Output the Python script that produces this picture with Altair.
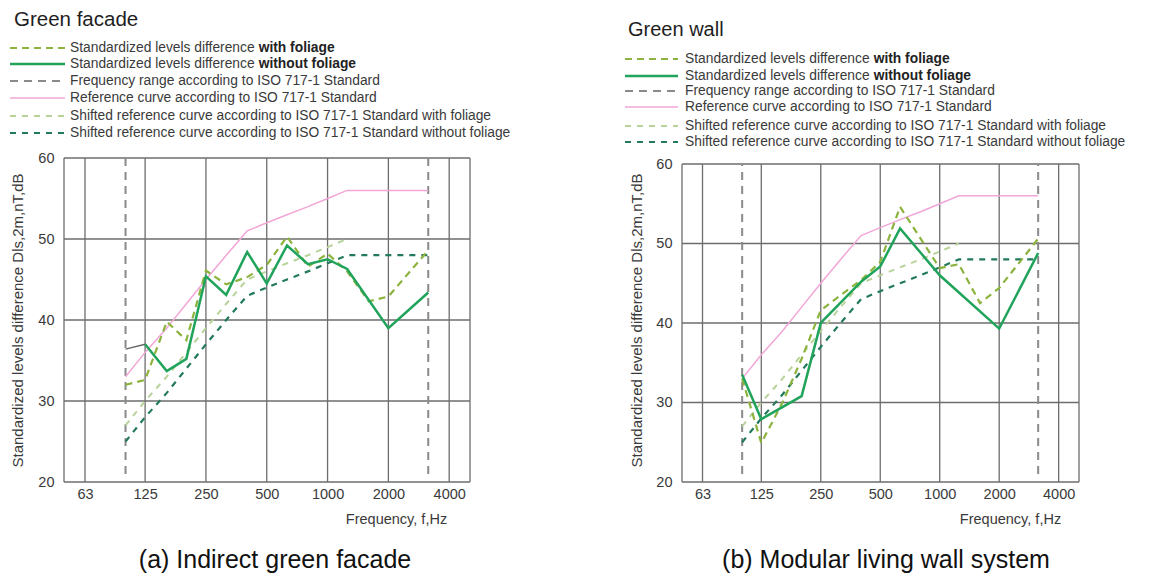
import altair as alt
import pandas as pd

# ---------------- data ----------------
FREQ_THIRD = [100, 125, 160, 200, 250, 315, 400, 500, 630, 800, 1000, 1250, 1600, 2000, 2500, 3150]
REF_CURVE = [33, 36, 39, 42, 45, 48, 51, 52, 53, 54, 55, 56, 56, 56, 56, 56]

SHIFT_WITH_F = [100, 125, 160, 200, 250, 315, 400, 500, 630, 800, 1000, 1250]
SHIFT_WITH_V = [27, 30, 33, 36, 39, 42, 45, 46, 47, 48, 49, 50]
SHIFT_WITHOUT_V = [25, 28, 31, 34, 37, 40, 43, 44, 45, 46, 47, 48, 48, 48, 48, 48]

# Green facade
FAC_WITH_F = [100, 125, 160, 200, 250, 315, 400, 500, 630, 800, 1000, 1250, 1600, 2000, 3150]
FAC_WITH_V = [32.0, 32.6, 39.8, 37.5, 46.1, 44.4, 45.3, 46.8, 50.3, 46.6, 48.2, 46.0, 42.3, 42.9, 48.6]
FAC_WITHOUT_F = [125, 160, 200, 250, 315, 400, 500, 630, 800, 1000, 1250, 2000, 3150]
FAC_WITHOUT_V = [37.0, 33.7, 35.2, 45.4, 43.1, 48.4, 44.5, 49.2, 46.9, 47.5, 46.3, 39.0, 43.4]
FAC_LOW_F = [100, 125]
FAC_LOW_V = [36.4, 37.0]

# Green wall
WALL_WITH_F = [100, 125, 160, 200, 250, 315, 400, 500, 630, 1000, 1250, 1600, 2000, 3150]
WALL_WITH_V = [33.0, 24.9, 30.0, 35.5, 41.6, 43.5, 45.4, 47.7, 54.6, 46.9, 47.4, 42.5, 44.4, 50.6]
WALL_WITHOUT_F = [100, 125, 200, 250, 400, 500, 630, 1000, 2000, 3150]
WALL_WITHOUT_V = [33.5, 27.9, 30.8, 40.0, 45.2, 47.1, 51.9, 46.0, 39.3, 48.8]

RANGE_F = [100, 3150]
X_TICKS = [63, 125, 250, 500, 1000, 2000, 4000]
Y_TICKS = [20, 30, 40, 50, 60]
X_DOMAIN = [49.6, 5070]

LEGEND_TEXT = [
    ("Standardized levels difference ", "with foliage"),
    ("Standardized levels difference ", "without foliage"),
    ("Frequency range according to ISO 717-1 Standard", ""),
    ("Reference curve according to ISO 717-1 Standard", ""),
    ("Shifted reference curve according to ISO 717-1 Standard with foliage", ""),
    ("Shifted reference curve according to ISO 717-1 Standard without foliage", ""),
]

# ---------------- styles ----------------
FONT = "Liberation Sans"
GRID = "#6d6d6d"
LABEL = "#3a3a3a"
C_WITH = "#8db33f"
C_WITHOUT = "#20a35a"
C_RANGE = "#8a8a8a"
C_REF = "#f2a6d8"
C_SHIFT_WITH = "#b8d39a"
C_SHIFT_WITHOUT = "#23795b"
C_LOW = "#666666"
LEG_SIZE = 13.8

STYLES = [
    dict(color=C_WITH, strokeWidth=2.2, strokeDash=[7, 5]),
    dict(color=C_WITHOUT, strokeWidth=2.5),
    dict(color=C_RANGE, strokeWidth=2.0, strokeDash=[8, 6]),
    dict(color=C_REF, strokeWidth=1.5),
    dict(color=C_SHIFT_WITH, strokeWidth=2.0, strokeDash=[6, 6]),
    dict(color=C_SHIFT_WITHOUT, strokeWidth=2.2, strokeDash=[6, 6]),
]

ONE = pd.DataFrame({"o": [0]})


def df(f, v):
    return pd.DataFrame({"f": f, "v": v})


def panel(W, H, ytop, with_f, with_v, wo_f, wo_v, low, legend_y, sym_x, text_x,
          title_xy, title_text, title_size, ytitle_x, xtitle_x, caption_xy, caption, anchor=False):
    xs = alt.Scale(type="log", domain=X_DOMAIN, nice=False)
    ys = alt.Scale(domain=[Y_TICKS[0], ytop], nice=False, zero=False)
    xax = alt.Axis(values=X_TICKS, format="d", grid=False, domain=False, ticks=False, tickSize=0,
                   labelPadding=5, labelFontSize=14.5, labelColor=LABEL, labelFont=FONT,
                   labelFlush=False, labelOverlap=False,
                   title="Frequency, f,Hz", titleFont=FONT, titleFontSize=14.5, titleFontWeight="normal",
                   titleColor=LABEL, titleX=xtitle_x, titleY=37, titleAlign="center", titleBaseline="middle")
    yax = alt.Axis(values=Y_TICKS, grid=False, domain=False, ticks=False, tickSize=0,
                   labelPadding=10, labelFontSize=14.5, labelColor=LABEL, labelFont=FONT,
                   labelFlush=False, labelOverlap=False,
                   title="Standardized levels difference Dls,2m,nT,dB", titleFont=FONT, titleFontSize=15,
                   titleFontWeight="normal", titleColor=LABEL, titleX=ytitle_x, titleY=162, titleAngle=270,
                   titleAlign="center", titleBaseline="middle")

    def X():
        return alt.X("f:Q", scale=xs, axis=xax)

    def Y():
        return alt.Y("v:Q", scale=ys, axis=yax)

    layers = []
    # horizontal grid / top & bottom frame
    layers.append(alt.Chart(pd.DataFrame({"v": Y_TICKS})).mark_rule(color=GRID, strokeWidth=1.3)
                  .encode(y=Y(), x=alt.value(0), x2=alt.value(W)))
    # vertical grid
    layers.append(alt.Chart(pd.DataFrame({"f": X_TICKS, "v": Y_TICKS[0], "v2": Y_TICKS[-1]}))
                  .mark_rule(color=GRID, strokeWidth=1.3).encode(x=X(), y=Y(), y2="v2:Q"))
    # side frame
    for xv in (0, W):
        layers.append(alt.Chart(pd.DataFrame({"v": [Y_TICKS[0]], "v2": [Y_TICKS[-1]]}))
                      .mark_rule(color=GRID, strokeWidth=1.3).encode(x=alt.value(xv), y=Y(), y2="v2:Q"))
    # frequency range
    layers.append(alt.Chart(pd.DataFrame({"f": RANGE_F, "v": 21, "v2": Y_TICKS[-1]}))
                  .mark_rule(**STYLES[2]).encode(x=X(), y=Y(), y2="v2:Q"))
    # curves
    layers.append(alt.Chart(df(FREQ_THIRD, REF_CURVE)).mark_line(**STYLES[3]).encode(x=X(), y=Y()))
    layers.append(alt.Chart(df(SHIFT_WITH_F, SHIFT_WITH_V)).mark_line(**STYLES[4]).encode(x=X(), y=Y()))
    layers.append(alt.Chart(df(FREQ_THIRD, SHIFT_WITHOUT_V)).mark_line(**STYLES[5]).encode(x=X(), y=Y()))
    layers.append(alt.Chart(df(with_f, with_v)).mark_line(**STYLES[0]).encode(x=X(), y=Y()))
    if low is not None:
        layers.append(alt.Chart(df(*low)).mark_line(color=C_LOW, strokeWidth=1.4).encode(x=X(), y=Y()))
    layers.append(alt.Chart(df(wo_f, wo_v)).mark_line(**STYLES[1]).encode(x=X(), y=Y()))

    # legend
    for (txt, bold), yy, st in zip(LEGEND_TEXT, legend_y, STYLES):
        layers.append(alt.Chart(ONE).mark_rule(**st)
                      .encode(x=alt.value(sym_x[0]), x2=alt.value(sym_x[1]), y=alt.value(yy)))
        layers.append(alt.Chart(ONE).mark_text(align="left", baseline="middle", font=FONT, fontSize=LEG_SIZE,
                                               color=LABEL)
                      .encode(x=alt.value(text_x), y=alt.value(yy), text=alt.value(txt)))
        if bold:
            layers.append(alt.Chart(ONE).mark_text(align="left", baseline="middle", font=FONT, fontSize=LEG_SIZE,
                                                   fontWeight="bold", color="#222222")
                          .encode(x=alt.value(text_x + 13.673 * LEG_SIZE), y=alt.value(yy), text=alt.value(bold)))
    # panel title
    layers.append(alt.Chart(ONE).mark_text(align="left", baseline="middle", font=FONT, fontSize=title_size,
                                           color="#1e1e1e")
                  .encode(x=alt.value(title_xy[0]), y=alt.value(title_xy[1]), text=alt.value(title_text)))
    # caption
    layers.append(alt.Chart(ONE).mark_text(align="center", baseline="middle", font=FONT, fontSize=25,
                                           color="#111111")
                  .encode(x=alt.value(caption_xy[0]), y=alt.value(caption_xy[1]), text=alt.value(caption)))
    if anchor:
        layers.append(alt.Chart(ONE).mark_rule(color="white", strokeWidth=1)
                      .encode(x=alt.value(-55.5), x2=alt.value(-50), y=alt.value(-149.5)))
    return alt.layer(*layers).properties(width=W, height=H)


left = panel(
    W=406, H=324, ytop=60,
    with_f=FAC_WITH_F, with_v=FAC_WITH_V, wo_f=FAC_WITHOUT_F, wo_v=FAC_WITHOUT_V,
    low=(FAC_LOW_F, FAC_LOW_V),
    legend_y=[-110, -94, -77, -60, -42, -25], sym_x=(-54, 1), text_x=6,
    title_xy=(-50, -138), title_text="Green facade", title_size=20.5,
    ytitle_x=-47, xtitle_x=332, caption_xy=(211, 402), caption="(a) Indirect green facade", anchor=True,
)

right = panel(
    W=397, H=324, ytop=60.755,
    with_f=WALL_WITH_F, with_v=WALL_WITH_V, wo_f=WALL_WITHOUT_F, wo_v=WALL_WITHOUT_V,
    low=None,
    legend_y=[-99, -82, -67, -51, -32, -16], sym_x=(-57, -4), text_x=3,
    title_xy=(-54, -128), title_text="Green wall", title_size=20,
    ytitle_x=-46, xtitle_x=328, caption_xy=(204, 402), caption="(b) Modular living wall system",
)

chart = alt.hconcat(left, right, spacing=212, bounds="flush").properties(
    padding=0
).configure_view(stroke=None)

chart.save("out.html", embed_options={"renderer": "svg", "actions": False})
